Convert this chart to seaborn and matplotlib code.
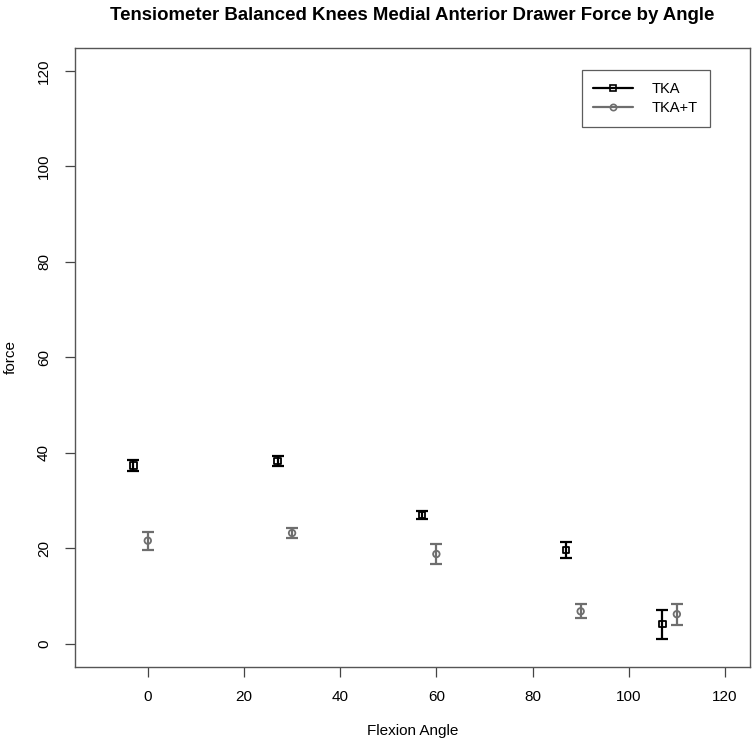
import matplotlib
matplotlib.use("Agg")
import matplotlib.pyplot as plt
from matplotlib.lines import Line2D
import seaborn as sns
import pandas as pd

# Values
tka_angle = [-3, 27, 57, 87, 107]
tka_force = [37.3, 38.3, 27.0, 19.6, 4.1]
tka_err = [1.2, 1.1, 0.8, 1.7, 3.0]

tkat_angle = [0, 30, 60, 90, 110]
tkat_force = [21.6, 23.2, 18.8, 6.8, 6.2]
tkat_err = [1.9, 1.1, 2.0, 1.5, 2.2]

groups = ["TKA", "TKA+T"]
x_ticks = [0, 20, 40, 60, 80, 100, 120]
y_ticks = [0, 20, 40, 60, 80, 100, 120]

df = pd.DataFrame({
    "angle": tka_angle + tkat_angle,
    "force": tka_force + tkat_force,
    "err": tka_err + tkat_err,
    "group": [groups[0]] * len(tka_angle) + [groups[1]] * len(tkat_angle),
})

sns.set_style("white")
plt.rcParams["font.family"] = ["Liberation Sans", "DejaVu Sans"]
plt.rcParams["text.color"] = "black"
plt.rcParams["axes.labelcolor"] = "black"
plt.rcParams["xtick.color"] = "black"
plt.rcParams["ytick.color"] = "black"

colors = {"TKA": "#000000", "TKA+T": "#6e6e6e"}
markers = {"TKA": "s", "TKA+T": "o"}

fig = plt.figure(figsize=(7.52, 7.44), dpi=100)
ax = fig.add_axes([0.0993, 0.1039, 0.8980, 0.8316])

# error bars
for g in groups:
    sub = df[df["group"] == g]
    ax.errorbar(sub["angle"], sub["force"], yerr=sub["err"], fmt="none",
                ecolor=colors[g], elinewidth=1.6, capsize=4.2, capthick=1.6, zorder=2)

# hollow markers
sns.scatterplot(data=df, x="angle", y="force", hue="group", style="group",
                palette=colors, markers=markers, s=22,
                linewidth=1.3, legend=False, ax=ax, zorder=3)
pts = ax.collections[-1]
pts.set_facecolor("none")
pts.set_edgecolor([colors[g] for g in df["group"]])

ax.set_xlim(-15.2, 125.2)
ax.set_ylim(-4.8, 124.8)
ax.set_xticks(x_ticks)
ax.set_yticks(y_ticks)
ax.set_yticklabels([str(v) for v in y_ticks], rotation=90, va="center")
ax.tick_params(axis="both", which="both", direction="out", length=7, width=0.9,
               color="#444444", labelsize=11, pad=10, left=True, bottom=True)
for s in ax.spines.values():
    s.set_color("#555555")
    s.set_linewidth(1.0)

ax.set_xlabel("Flexion Angle", fontsize=11, labelpad=14)
ax.set_ylabel("force", fontsize=11, labelpad=14)
ax.set_title("Tensiometer Balanced Knees Medial Anterior Drawer Force by Angle",
             fontsize=13.4, fontweight="bold", pad=20)

handles = [Line2D([0], [0], color=colors[g], marker=markers[g], markersize=4.5,
                  markerfacecolor="none", markeredgewidth=1.2, linewidth=1.6)
           for g in groups]
leg = ax.legend(handles, groups, loc="upper left", bbox_to_anchor=(0.751, 0.964),
                fancybox=False, frameon=True, fontsize=10.5, handlelength=2.7,
                handletextpad=1.3, borderpad=0.8, labelspacing=0.35,
                borderaxespad=0)
leg.get_frame().set_edgecolor("#333333")
leg.get_frame().set_linewidth(0.9)

fig.savefig("out.png", dpi=100)
